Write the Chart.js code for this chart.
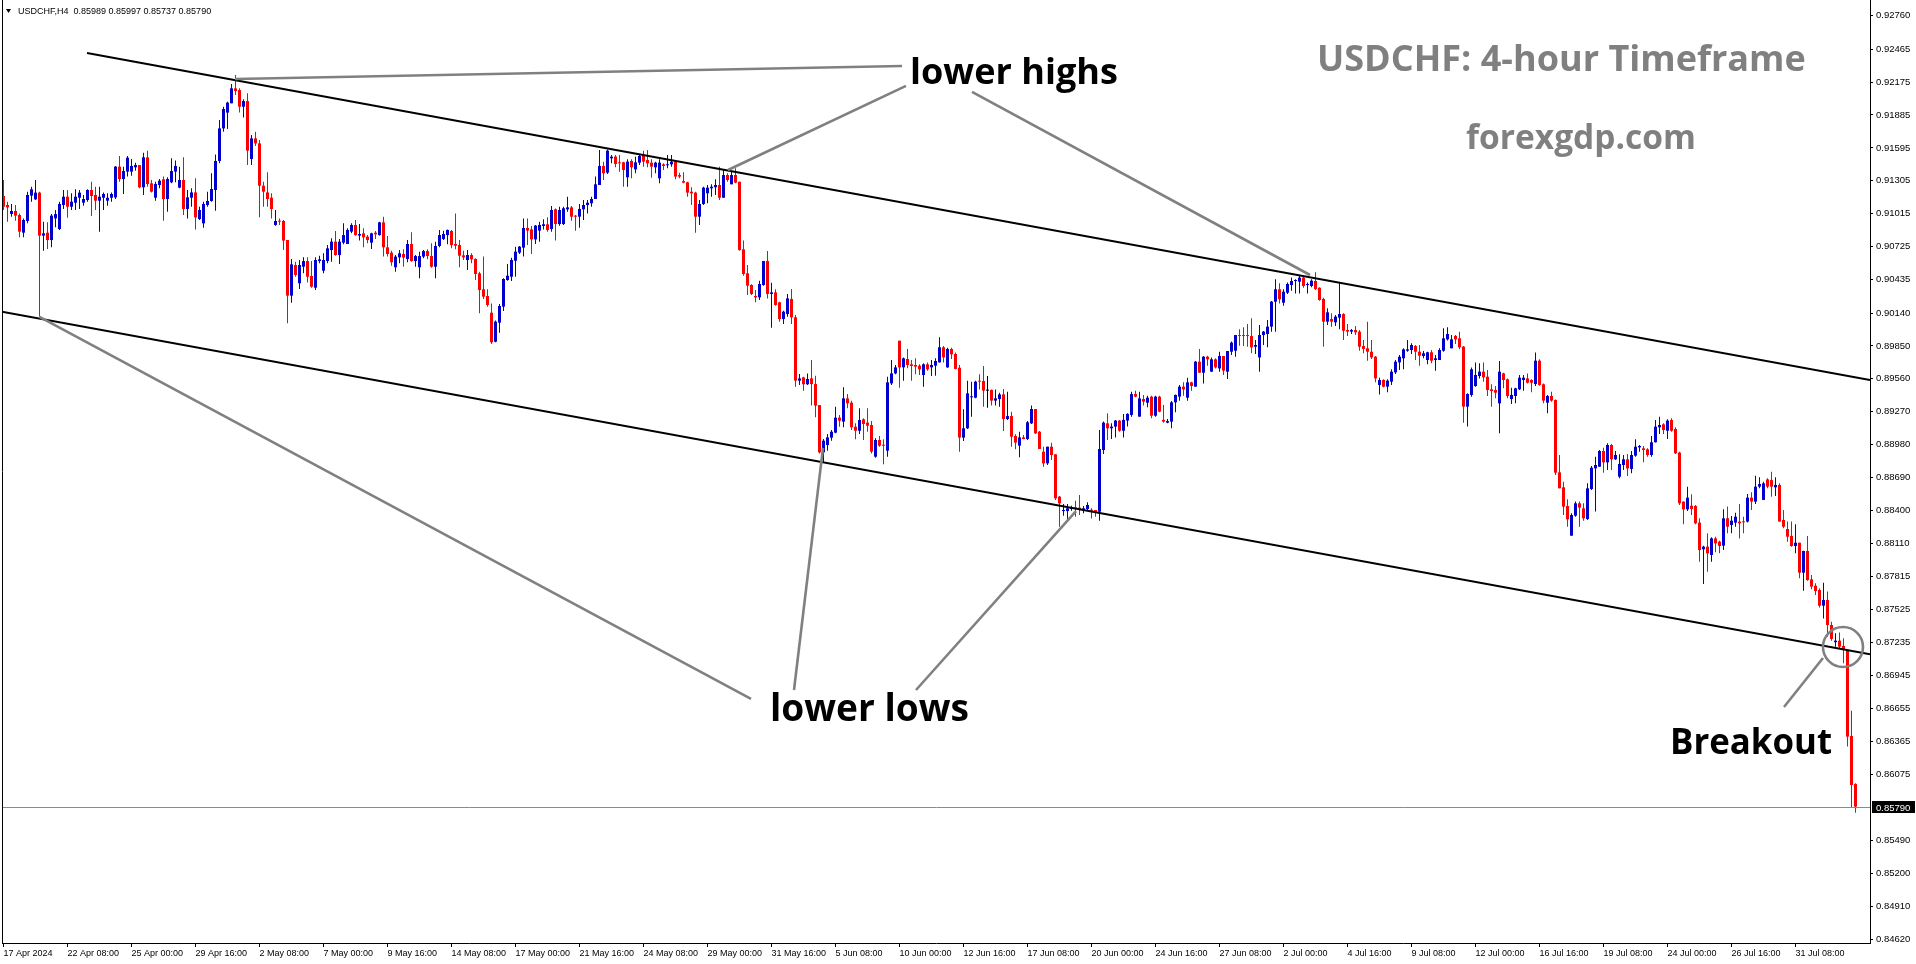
<!DOCTYPE html>
<html><head><meta charset="utf-8">
<script src="https://cdn.jsdelivr.net/npm/chart.js@4.4.1/dist/chart.umd.min.js"></script>
<style>html,body{margin:0;padding:0;background:#fff;overflow:hidden}#wrap{width:1916px;height:964px;position:relative}</style>
</head><body><div id="wrap"><canvas id="c"></canvas></div>
<script>
const symbolTitle = 'USDCHF,H4';

const opens = [
0.91171,0.91092,0.91013,0.91039,0.91004,0.90848,0.90951,0.91174,0.91142,0.91201,
0.90822,0.90848,0.90783,0.90974,0.90880,0.91092,0.91165,0.91077,0.91112,0.91156,
0.91112,0.91136,0.91224,0.91180,0.91130,0.91156,0.91130,0.91156,0.91159,0.91430,
0.91321,0.91386,0.91386,0.91424,0.91444,0.91248,0.91512,0.91283,0.91156,0.91268,
0.91318,0.91145,0.91292,0.91386,0.91245,0.91312,0.91057,0.91156,0.91203,0.90968,
0.90930,0.91092,0.91127,0.91224,0.91480,0.91767,0.91906,0.91988,0.92120,0.92105,
0.91958,0.92008,0.91497,0.91679,0.91635,0.91262,0.91203,0.91156,0.90916,0.90951,
0.90951,0.90783,0.90293,0.90563,0.90402,0.90548,0.90598,0.90466,0.90363,0.90598,
0.90513,0.90598,0.90695,0.90769,0.90651,0.90760,0.90748,0.90857,0.90916,0.90822,
0.90842,0.90813,0.90760,0.90848,0.90827,0.90939,0.90719,0.90672,0.90543,0.90631,
0.90660,0.90616,0.90748,0.90598,0.90543,0.90637,0.90686,0.90642,0.90548,0.90731,
0.90792,0.90827,0.90863,0.90748,0.90739,0.90648,0.90607,0.90651,0.90616,0.90490,
0.90349,0.90290,0.90143,0.89887,0.90055,0.90196,0.90431,0.90460,0.90601,0.90672,
0.90716,0.90889,0.90877,0.90789,0.90866,0.90907,0.90922,0.90880,0.91054,0.90924,
0.90924,0.91054,0.91071,0.90998,0.90989,0.91054,0.91092,0.91107,0.91145,0.91268,
0.91436,0.91377,0.91503,0.91518,0.91468,0.91468,0.91336,0.91480,0.91406,0.91465,
0.91533,0.91488,0.91465,0.91424,0.91327,0.91450,0.91442,0.91450,0.91474,0.91356,
0.91303,0.91292,0.91209,0.91201,0.90989,0.91101,0.91195,0.91239,0.91248,0.91268,
0.91156,0.91356,0.91274,0.91356,0.91297,0.90701,0.90490,0.90387,0.90290,0.90278,
0.90387,0.90598,0.90308,0.90322,0.90234,0.90087,0.90131,0.90264,0.90102,0.89544,
0.89573,0.89512,0.89564,0.89514,0.89329,0.88912,0.88977,0.89042,0.89086,0.89218,
0.89183,0.89388,0.89350,0.89138,0.89103,0.89203,0.89174,0.89153,0.88874,0.89021,
0.88977,0.88927,0.89520,0.89608,0.89896,0.89661,0.89735,0.89688,0.89682,0.89676,
0.89594,0.89688,0.89661,0.89676,0.89705,0.89838,0.89661,0.89823,0.89779,0.89658,
0.89042,0.89124,0.89397,0.89394,0.89541,0.89541,0.89456,0.89462,0.89368,0.89382,
0.89423,0.89206,0.89232,0.89056,0.88971,0.89044,0.89030,0.89168,0.89294,0.89094,
0.88918,0.88815,0.88962,0.88895,0.88522,0.88395,0.88395,0.88413,0.88428,0.88425,
0.88404,0.88413,0.88404,0.88404,0.88389,0.88933,0.89168,0.89124,0.89139,0.89192,
0.89103,0.89192,0.89242,0.89426,0.89227,0.89382,0.89350,0.89403,0.89235,0.89403,
0.89198,0.89174,0.89183,0.89353,0.89403,0.89491,0.89394,0.89529,0.89491,0.89711,
0.89614,0.89755,0.89623,0.89732,0.89652,0.89761,0.89623,0.89799,0.89808,0.89943,
0.89943,0.89943,0.89937,0.89843,0.89749,0.89946,0.89955,0.90020,0.90240,0.90349,
0.90231,0.90319,0.90387,0.90422,0.90416,0.90452,0.90387,0.90378,0.90422,0.90363,
0.90264,0.90064,0.90087,0.90058,0.90099,0.90131,0.89990,0.89976,0.89990,0.89976,
0.89849,0.89829,0.89799,0.89755,0.89506,0.89550,0.89491,0.89535,0.89617,0.89705,
0.89741,0.89808,0.89814,0.89849,0.89799,0.89761,0.89726,0.89794,0.89726,0.89726,
0.89808,0.89908,0.89829,0.89938,0.89917,0.89844,0.89315,0.89418,0.89497,0.89585,
0.89623,0.89579,0.89468,0.89462,0.89344,0.89608,0.89556,0.89382,0.89409,0.89468,
0.89550,0.89564,0.89550,0.89514,0.89720,0.89512,0.89350,0.89409,0.89374,0.88736,
0.88604,0.88439,0.88178,0.88354,0.88463,0.88419,0.88325,0.88589,0.88771,0.88786,
0.88924,0.88824,0.88977,0.88851,0.88698,0.88801,0.88851,0.88766,0.88883,0.88956,
0.88948,0.88939,0.88889,0.89001,0.89133,0.89159,0.89103,0.89197,0.89118,0.88910,
0.88478,0.88410,0.88442,0.88439,0.88293,0.88058,0.88081,0.88008,0.88154,0.88125,
0.88090,0.88331,0.88272,0.88293,0.88302,0.88304,0.88302,0.88513,0.88478,0.88610,
0.88493,0.88674,0.88668,0.88604,0.88625,0.88316,0.88237,0.88175,0.88087,0.88116,
0.87852,0.88043,0.87793,0.87737,0.87699,0.87561,0.87611,0.87391,0.87239,0.87253,
0.87206,0.87171,0.86413,0.85989];

const highs = [
0.91312,0.91121,0.91101,0.91092,0.91018,0.90974,0.91209,0.91253,0.91312,0.91209,
0.90945,0.90939,0.91013,0.91048,0.91121,0.91224,0.91224,0.91195,0.91230,0.91224,
0.91180,0.91230,0.91297,0.91253,0.91253,0.91201,0.91195,0.91201,0.91436,0.91524,
0.91430,0.91524,0.91497,0.91465,0.91444,0.91553,0.91571,0.91312,0.91297,0.91321,
0.91342,0.91336,0.91503,0.91483,0.91430,0.91512,0.91224,0.91239,0.91327,0.91077,
0.91121,0.91209,0.91371,0.91538,0.91841,0.91958,0.92002,0.92158,0.92237,0.92120,
0.92023,0.92076,0.91709,0.91738,0.91665,0.91297,0.91380,0.91195,0.91048,0.90974,
0.90960,0.90783,0.90616,0.90592,0.90607,0.90631,0.90631,0.90598,0.90631,0.90645,
0.90666,0.90739,0.90798,0.90863,0.90792,0.90930,0.90886,0.90930,0.90960,0.90924,
0.90886,0.90827,0.90848,0.90863,0.90945,0.90989,0.90819,0.90689,0.90651,0.90695,
0.90701,0.90783,0.90851,0.90651,0.90681,0.90695,0.90701,0.90754,0.90769,0.90872,
0.90866,0.90877,0.90872,0.91018,0.90783,0.90689,0.90695,0.90666,0.90622,0.90504,
0.90637,0.90349,0.90225,0.90073,0.90219,0.90446,0.90572,0.90628,0.90725,0.90731,
0.90974,0.90974,0.90907,0.90916,0.90945,0.90966,0.90983,0.91083,0.91060,0.91077,
0.91077,0.91165,0.91083,0.91004,0.91101,0.91136,0.91136,0.91165,0.91342,0.91577,
0.91474,0.91582,0.91533,0.91533,0.91533,0.91474,0.91494,0.91494,0.91518,0.91541,
0.91571,0.91577,0.91494,0.91474,0.91494,0.91459,0.91533,0.91533,0.91483,0.91377,
0.91380,0.91297,0.91248,0.91209,0.91136,0.91253,0.91268,0.91274,0.91318,0.91430,
0.91400,0.91371,0.91386,0.91415,0.91297,0.90778,0.90563,0.90393,0.90343,0.90425,
0.90598,0.90687,0.90407,0.90349,0.90240,0.90161,0.90308,0.90352,0.90123,0.89603,
0.89579,0.89608,0.89726,0.89588,0.89329,0.89030,0.89074,0.89109,0.89315,0.89241,
0.89485,0.89426,0.89368,0.89168,0.89300,0.89212,0.89300,0.89188,0.89036,0.89056,
0.89027,0.89579,0.89726,0.89682,0.89896,0.89749,0.89823,0.89726,0.89741,0.89688,
0.89697,0.89703,0.89726,0.89741,0.89926,0.89849,0.89835,0.89835,0.89791,0.89682,
0.89291,0.89544,0.89535,0.89544,0.89600,0.89673,0.89585,0.89467,0.89467,0.89438,
0.89470,0.89447,0.89271,0.89071,0.89094,0.89065,0.89188,0.89324,0.89294,0.89100,
0.88962,0.88962,0.88997,0.88895,0.88527,0.88457,0.88457,0.88442,0.88486,0.88536,
0.88439,0.88472,0.88419,0.88404,0.89109,0.89183,0.89256,0.89168,0.89198,0.89198,
0.89251,0.89256,0.89447,0.89456,0.89447,0.89418,0.89412,0.89412,0.89412,0.89412,
0.89330,0.89206,0.89365,0.89423,0.89506,0.89529,0.89570,0.89535,0.89717,0.89823,
0.89761,0.89764,0.89747,0.89741,0.89799,0.89761,0.89805,0.89888,0.89946,0.89996,
0.90014,0.90043,0.90093,0.89902,0.90034,0.89981,0.90078,0.90246,0.90437,0.90402,
0.90349,0.90410,0.90452,0.90437,0.90475,0.90460,0.90410,0.90437,0.90499,0.90366,
0.90275,0.90181,0.90137,0.90123,0.90410,0.90137,0.90043,0.89999,0.90025,0.89990,
0.89902,0.90064,0.89902,0.89761,0.89570,0.89556,0.89556,0.89644,0.89726,0.89770,
0.89829,0.89902,0.89873,0.89858,0.89858,0.89805,0.89799,0.89814,0.89770,0.89829,
0.90005,0.90014,0.89946,0.89946,0.89976,0.89849,0.89432,0.89661,0.89703,0.89697,
0.89703,0.89638,0.89512,0.89497,0.89717,0.89614,0.89564,0.89482,0.89482,0.89594,
0.89594,0.89608,0.89556,0.89791,0.89732,0.89520,0.89418,0.89447,0.89379,0.88889,
0.88654,0.88498,0.88375,0.88478,0.88478,0.88463,0.88639,0.88792,0.88874,0.88933,
0.88953,0.88992,0.88986,0.88924,0.88895,0.88889,0.88898,0.88924,0.89027,0.88977,
0.88968,0.88948,0.89056,0.89197,0.89227,0.89168,0.89203,0.89212,0.89133,0.88918,
0.88478,0.88610,0.88542,0.88448,0.88331,0.88090,0.88199,0.88163,0.88169,0.88134,
0.88410,0.88434,0.88351,0.88381,0.88457,0.88345,0.88545,0.88560,0.88707,0.88692,
0.88654,0.88684,0.88742,0.88692,0.88639,0.88404,0.88302,0.88302,0.88278,0.88116,
0.88046,0.88175,0.87831,0.87758,0.87714,0.87764,0.87685,0.87420,0.87318,0.87324,
0.87273,0.87171,0.86636,0.85997];

const lows = [
0.91048,0.90945,0.90989,0.90954,0.90807,0.90807,0.90930,0.91121,0.91136,0.90108,
0.90689,0.90704,0.90719,0.90895,0.90871,0.91057,0.90980,0.91048,0.91048,0.91057,
0.91086,0.91121,0.90995,0.91048,0.90857,0.91048,0.91086,0.91121,0.91145,0.91297,
0.91189,0.91342,0.91350,0.91394,0.91239,0.91180,0.91253,0.91203,0.91130,0.91239,
0.90954,0.91033,0.91283,0.91292,0.91239,0.91004,0.90974,0.91077,0.90877,0.90960,
0.90892,0.91077,0.91121,0.91042,0.91459,0.91738,0.91762,0.91988,0.92061,0.91908,
0.91864,0.91444,0.91444,0.91612,0.90983,0.91077,0.91077,0.90974,0.90910,0.90916,
0.90695,0.90049,0.90231,0.90460,0.90352,0.90490,0.90410,0.90363,0.90343,0.90578,
0.90490,0.90578,0.90592,0.90645,0.90572,0.90745,0.90748,0.90842,0.90822,0.90778,
0.90719,0.90754,0.90704,0.90792,0.90822,0.90637,0.90637,0.90557,0.90504,0.90578,
0.90548,0.90587,0.90592,0.90548,0.90446,0.90622,0.90613,0.90540,0.90446,0.90719,
0.90783,0.90745,0.90710,0.90701,0.90543,0.90607,0.90519,0.90578,0.90431,0.90137,
0.90264,0.90196,0.89867,0.89882,0.89967,0.90158,0.90425,0.90422,0.90460,0.90660,
0.90637,0.90739,0.90660,0.90748,0.90769,0.90877,0.90857,0.90857,0.90778,0.90910,
0.90916,0.91033,0.90954,0.90866,0.90892,0.90960,0.91018,0.91077,0.91145,0.91268,
0.91312,0.91365,0.91459,0.91424,0.91386,0.91253,0.91253,0.91327,0.91371,0.91445,
0.91430,0.91424,0.91333,0.91371,0.91283,0.91400,0.91415,0.91430,0.91318,0.91327,
0.91283,0.91165,0.91092,0.90848,0.90916,0.91092,0.91107,0.91165,0.91180,0.91136,
0.91156,0.91297,0.91274,0.91283,0.90689,0.90469,0.90299,0.90299,0.90234,0.90255,
0.90381,0.90269,0.90011,0.90205,0.90064,0.90043,0.90108,0.90043,0.89491,0.89506,
0.89456,0.89506,0.89324,0.89221,0.88903,0.88830,0.88927,0.89015,0.89080,0.89138,
0.89133,0.89300,0.89109,0.89027,0.89074,0.89021,0.89094,0.88903,0.88865,0.88962,
0.88807,0.88874,0.89506,0.89600,0.89482,0.89544,0.89653,0.89544,0.89600,0.89594,
0.89491,0.89632,0.89585,0.89588,0.89703,0.89705,0.89658,0.89735,0.89644,0.88918,
0.89012,0.89118,0.89227,0.89388,0.89467,0.89315,0.89306,0.89324,0.89324,0.89315,
0.89100,0.89197,0.88962,0.88939,0.88868,0.89027,0.89021,0.89162,0.89074,0.88942,
0.88786,0.88801,0.88845,0.88492,0.88257,0.88354,0.88316,0.88398,0.88345,0.88360,
0.88375,0.88404,0.88330,0.88345,0.88310,0.88898,0.89021,0.89030,0.89044,0.89094,
0.89044,0.89139,0.89227,0.89397,0.89227,0.89324,0.89309,0.89212,0.89227,0.89265,
0.89174,0.89168,0.89124,0.89265,0.89368,0.89412,0.89368,0.89456,0.89491,0.89614,
0.89520,0.89676,0.89623,0.89652,0.89623,0.89594,0.89559,0.89770,0.89755,0.89852,
0.89849,0.89843,0.89785,0.89779,0.89623,0.89858,0.89838,0.89976,0.89976,0.90225,
0.90205,0.90308,0.90337,0.90313,0.90313,0.90363,0.90313,0.90366,0.90343,0.90249,
0.89843,0.90034,0.90020,0.90025,0.89996,0.89902,0.89937,0.89955,0.89946,0.89808,
0.89785,0.89720,0.89735,0.89529,0.89423,0.89485,0.89441,0.89506,0.89603,0.89638,
0.89644,0.89799,0.89779,0.89726,0.89676,0.89741,0.89688,0.89697,0.89632,0.89726,
0.89799,0.89897,0.89829,0.89867,0.89820,0.89174,0.89139,0.89403,0.89491,0.89564,
0.89535,0.89409,0.89315,0.89388,0.89080,0.89476,0.89388,0.89338,0.89344,0.89462,
0.89456,0.89520,0.89441,0.89497,0.89500,0.89344,0.89256,0.89359,0.88713,0.88595,
0.88360,0.88257,0.88178,0.88345,0.88257,0.88310,0.88316,0.88580,0.88390,0.88786,
0.88733,0.88756,0.88756,0.88845,0.88684,0.88756,0.88704,0.88727,0.88874,0.88918,
0.88824,0.88874,0.88874,0.88998,0.89074,0.89074,0.89030,0.89094,0.88898,0.88448,
0.88278,0.88395,0.88360,0.88278,0.87949,0.87752,0.87861,0.87949,0.88031,0.88022,
0.88052,0.88199,0.88199,0.88257,0.88154,0.88199,0.88293,0.88404,0.88457,0.88595,
0.88493,0.88595,0.88522,0.88528,0.88302,0.88243,0.88125,0.88081,0.88022,0.87802,
0.87693,0.87781,0.87705,0.87655,0.87546,0.87449,0.87288,0.87253,0.87200,0.87180,
0.87053,0.86319,0.85780,0.85737];

const closes = [
0.91077,0.91071,0.91039,0.90998,0.90857,0.90960,0.91180,0.91230,0.91201,0.90822,
0.90842,0.90783,0.90998,0.91012,0.91101,0.91165,0.91077,0.91121,0.91165,0.91201,
0.91145,0.91224,0.91171,0.91130,0.91165,0.91189,0.91156,0.91189,0.91430,0.91321,
0.91391,0.91509,0.91436,0.91444,0.91248,0.91512,0.91277,0.91209,0.91277,0.91306,
0.91145,0.91321,0.91391,0.91436,0.91312,0.91057,0.91159,0.91203,0.90983,0.91048,
0.91101,0.91127,0.91233,0.91480,0.91767,0.91938,0.91994,0.92120,0.92096,0.91958,
0.92008,0.91571,0.91679,0.91635,0.91262,0.91209,0.91145,0.91057,0.90951,0.90945,
0.90778,0.90293,0.90569,0.90475,0.90563,0.90598,0.90460,0.90372,0.90607,0.90613,
0.90607,0.90710,0.90769,0.90651,0.90769,0.90827,0.90872,0.90916,0.90827,0.90836,
0.90807,0.90783,0.90842,0.90833,0.90939,0.90719,0.90660,0.90587,0.90637,0.90666,
0.90628,0.90748,0.90598,0.90642,0.90642,0.90686,0.90642,0.90548,0.90731,0.90827,
0.90836,0.90872,0.90739,0.90733,0.90645,0.90631,0.90651,0.90613,0.90484,0.90343,
0.90284,0.90211,0.89882,0.90064,0.90202,0.90440,0.90469,0.90607,0.90681,0.90725,
0.90889,0.90866,0.90789,0.90910,0.90916,0.90922,0.90872,0.91048,0.90924,0.91048,
0.91063,0.91071,0.90989,0.90989,0.91057,0.91092,0.91112,0.91145,0.91274,0.91436,
0.91371,0.91571,0.91518,0.91453,0.91459,0.91400,0.91474,0.91424,0.91468,0.91524,
0.91474,0.91459,0.91430,0.91465,0.91465,0.91436,0.91450,0.91474,0.91342,0.91342,
0.91289,0.91201,0.91195,0.90989,0.91101,0.91245,0.91245,0.91253,0.91268,0.91156,
0.91356,0.91312,0.91356,0.91289,0.90695,0.90484,0.90381,0.90308,0.90278,0.90396,
0.90598,0.90308,0.90322,0.90211,0.90087,0.90152,0.90269,0.90102,0.89544,0.89564,
0.89512,0.89559,0.89514,0.89324,0.88912,0.89015,0.89044,0.89094,0.89218,0.89191,
0.89388,0.89344,0.89133,0.89103,0.89197,0.89162,0.89147,0.88918,0.89021,0.88971,
0.88971,0.89529,0.89608,0.89661,0.89661,0.89741,0.89682,0.89673,0.89667,0.89644,
0.89688,0.89644,0.89682,0.89717,0.89838,0.89749,0.89823,0.89776,0.89647,0.89042,
0.89124,0.89432,0.89403,0.89535,0.89535,0.89456,0.89456,0.89368,0.89388,0.89423,
0.89206,0.89232,0.89050,0.88998,0.89044,0.89030,0.89177,0.89294,0.89080,0.88942,
0.88815,0.88962,0.88889,0.88507,0.88463,0.88404,0.88419,0.88428,0.88419,0.88404,
0.88419,0.88448,0.88398,0.88389,0.88942,0.89174,0.89124,0.89139,0.89192,0.89103,
0.89198,0.89251,0.89426,0.89403,0.89388,0.89359,0.89394,0.89235,0.89403,0.89271,
0.89183,0.89188,0.89353,0.89418,0.89491,0.89467,0.89529,0.89497,0.89711,0.89614,
0.89755,0.89732,0.89732,0.89661,0.89761,0.89632,0.89805,0.89879,0.89946,0.89937,
0.89937,0.89937,0.89838,0.89858,0.89946,0.89976,0.90020,0.90240,0.90349,0.90261,
0.90328,0.90396,0.90422,0.90431,0.90452,0.90378,0.90393,0.90425,0.90352,0.90255,
0.90064,0.90146,0.90064,0.90108,0.90131,0.89984,0.89976,0.89990,0.89970,0.89843,
0.89823,0.89799,0.89749,0.89564,0.89550,0.89491,0.89544,0.89623,0.89711,0.89755,
0.89820,0.89820,0.89858,0.89799,0.89764,0.89785,0.89794,0.89720,0.89741,0.89814,
0.89917,0.89955,0.89908,0.89908,0.89838,0.89315,0.89426,0.89644,0.89594,0.89623,
0.89573,0.89462,0.89453,0.89438,0.89623,0.89550,0.89409,0.89418,0.89476,0.89570,
0.89570,0.89526,0.89526,0.89720,0.89506,0.89368,0.89409,0.89368,0.88733,0.88595,
0.88434,0.88322,0.88360,0.88463,0.88425,0.88331,0.88595,0.88777,0.88801,0.88924,
0.88824,0.88977,0.88851,0.88889,0.88810,0.88851,0.88771,0.88889,0.88962,0.88968,
0.88933,0.88889,0.89001,0.89139,0.89153,0.89109,0.89192,0.89103,0.88904,0.88463,
0.88410,0.88513,0.88413,0.88287,0.88052,0.88081,0.88022,0.88154,0.88110,0.88087,
0.88331,0.88257,0.88310,0.88345,0.88287,0.88296,0.88513,0.88478,0.88610,0.88633,
0.88639,0.88610,0.88610,0.88625,0.88302,0.88257,0.88169,0.88087,0.88116,0.87852,
0.88043,0.87787,0.87729,0.87690,0.87561,0.87611,0.87391,0.87268,0.87253,0.87200,
0.87171,0.86407,0.85981,0.85790];

// time-axis labels, one every 16 H4 bars
const xTickLabels = ['17 Apr 2024','22 Apr 08:00','25 Apr 00:00','29 Apr 16:00','2 May 08:00','7 May 00:00',
 '9 May 16:00','14 May 08:00','17 May 00:00','21 May 16:00','24 May 08:00','29 May 00:00','31 May 16:00',
 '5 Jun 08:00','10 Jun 00:00','12 Jun 16:00','17 Jun 08:00','20 Jun 00:00','24 Jun 16:00','27 Jun 08:00',
 '2 Jul 00:00','4 Jul 16:00','9 Jul 08:00','12 Jul 00:00','16 Jul 16:00','19 Jul 08:00','24 Jul 00:00',
 '26 Jul 16:00','31 Jul 08:00'];
const xTickStep = 16;

const yTicks = [0.92760,0.92465,0.92175,0.91885,0.91595,0.91305,0.91015,0.90725,0.90435,0.90140,
 0.89850,0.89560,0.89270,0.88980,0.88690,0.88400,0.88110,0.87815,0.87525,0.87235,0.86945,0.86655,
 0.86365,0.86075,0.85490,0.85200,0.84910,0.84620];

// channel trendlines (bar index, price)
const channelUpper = [{x:20.875,y:0.92431},{x:466.625,y:0.89550}];
const channelLower = [{x:-0.375,y:0.90151},{x:466.625,y:0.87133}];

// grey pointer lines (bar index, price)
const pointerLines = [
 [{x:57.875,y:0.92202},{x:224.625,y:0.92317}],
 [{x:181.125,y:0.91400},{x:225.625,y:0.92141}],
 [{x:242.125,y:0.92088},{x:326.625,y:0.90475}],
 [{x:8.875,y:0.90108},{x:186.875,y:0.86739}],
 [{x:204.875,y:0.88951},{x:197.625,y:0.86818}],
 [{x:268.125,y:0.88395},{x:228.125,y:0.86818}],
 [{x:454.875,y:0.87100},{x:445.125,y:0.86668}]
];
const breakoutCircle = {x:459.875, y:0.87197};

const annotations = [
 {text:'USDCHF: 4-hour Timeframe', left:1317, base:71, width:489, color:'#808080'},
 {text:'forexgdp.com', left:1466, base:149, width:230, color:'#808080'},
 {text:'lower highs', left:910, base:84, width:208, color:'#000000'},
 {text:'lower lows', left:770, base:721, width:199, color:'#000000'},
 {text:'Breakout', left:1670, base:754, width:162, color:'#000000'}
];

const BULL = '#0000CD', BEAR = '#FF0000', DOJI = '#000000';
const Y_MAX = 0.928984, Y_MIN = 0.845885;
const X_MIN = -0.375, X_MAX = 466.625;

const idx = opens.map((_, i) => i);
const colorOf = i => closes[i] > opens[i] ? BULL : (closes[i] < opens[i] ? BEAR : DOJI);
const wickData = idx.map(i => ({x:i, y:[Math.min(lows[i], opens[i], closes[i]), Math.max(highs[i], opens[i], closes[i])]}));
const bodyData = idx.map(i => ({x:i, y:[opens[i], closes[i]]}));

const datasets = [
 {type:'bar', data:wickData, barThickness:1, grouped:false, order:3, inflateAmount:0, minBarLength:1,
  backgroundColor: c => colorOf(c.dataIndex), borderWidth:0},
 {type:'bar', data:bodyData, barThickness:3, grouped:false, order:2, inflateAmount:0, minBarLength:1,
  backgroundColor: c => colorOf(c.dataIndex), borderWidth:0},
 {type:'line', data:channelUpper, borderColor:'#000', borderWidth:2, pointRadius:0, order:1, tension:0},
 {type:'line', data:channelLower, borderColor:'#000', borderWidth:2, pointRadius:0, order:1, tension:0}
];
pointerLines.forEach(seg => datasets.push({type:'line', data:seg, borderColor:'#808080', borderWidth:2.6,
  pointRadius:0, order:0, tension:0}));

const X_FONT = {family:'"Liberation Sans", Arial, sans-serif', size:9};
const Y_FONT = {family:'"Liberation Sans", Arial, sans-serif', size:9.5};

const overlay = {
 id:'overlay',
 afterDraw(chart){
  const {ctx, chartArea:a, scales:{x, y}} = chart;
  ctx.save();
  ctx.strokeStyle = '#000'; ctx.lineWidth = 1;
  ctx.beginPath(); ctx.moveTo(a.left + 0.5, a.top); ctx.lineTo(a.left + 0.5, a.bottom); ctx.stroke();
  const last = closes[closes.length - 1];
  const py = Math.round(y.getPixelForValue(last)) + 0.5;
  ctx.strokeStyle = '#8a8a8a';
  ctx.beginPath(); ctx.moveTo(a.left + 1, py); ctx.lineTo(a.right, py); ctx.stroke();
  ctx.fillStyle = '#000';
  ctx.fillRect(a.right + 2, py - 6.5, 43, 12);
  ctx.fillStyle = '#fff';
  ctx.font = '9.5px "Liberation Sans", Arial, sans-serif';
  ctx.textAlign = 'left'; ctx.textBaseline = 'middle';
  ctx.fillText(last.toFixed(5), a.right + 6, py + 0.5);
  ctx.strokeStyle = '#808080'; ctx.lineWidth = 2.6;
  ctx.beginPath();
  ctx.arc(x.getPixelForValue(breakoutCircle.x), y.getPixelForValue(breakoutCircle.y), 20, 0, Math.PI * 2);
  ctx.stroke();
  ctx.fillStyle = '#000';
  ctx.beginPath(); ctx.moveTo(6, 9); ctx.lineTo(11, 9); ctx.lineTo(8.5, 13); ctx.closePath(); ctx.fill();
  ctx.font = '9px "Liberation Sans", Arial, sans-serif';
  ctx.textBaseline = 'middle';
  const n = opens.length - 1;
  ctx.fillText(symbolTitle + '  ' + [opens[n], highs[n], lows[n], closes[n]].map(v => v.toFixed(5)).join(' '), 18, 11.5);
  const fam = '"Open Sans", "Noto Sans", sans-serif';
  annotations.forEach(t => {
    ctx.font = 'bold 40px ' + fam;
    const w = ctx.measureText(t.text).width;
    const size = 40 * t.width / w;
    ctx.font = 'bold ' + size.toFixed(2) + 'px ' + fam;
    ctx.fillStyle = t.color; ctx.textAlign = 'left'; ctx.textBaseline = 'alphabetic';
    ctx.fillText(t.text, t.left, t.base);
  });
  ctx.restore();
 }
};

new Chart(document.getElementById('c'), {
 type:'bar',
 data:{datasets},
 options:{
  responsive:true, maintainAspectRatio:false, animation:false, devicePixelRatio:1,
  layout:{padding:{left:2, top:0, right:0, bottom:0}},
  plugins:{legend:{display:false}, tooltip:{enabled:false}},
  scales:{
   x:{type:'linear', min:X_MIN, max:X_MAX, offset:false, position:'bottom',
      afterBuildTicks: s => { s.ticks = xTickLabels.map((_, k) => ({value:k * xTickStep})); },
      ticks:{autoSkip:false, maxRotation:0, minRotation:0, align:'start', padding:1, color:'#000', font:X_FONT,
             callback: v => xTickLabels[Math.round(v / xTickStep)]},
      grid:{display:true, drawOnChartArea:false, drawTicks:true, tickLength:4, tickColor:'#000', offset:false},
      border:{display:true, color:'#000', width:1},
      afterFit: s => { s.height = 21; s.paddingLeft = 0; s.paddingRight = 0; }},
   y:{type:'linear', position:'right', min:Y_MIN, max:Y_MAX,
      afterBuildTicks: s => { s.ticks = yTicks.map(v => ({value:v})); },
      ticks:{autoSkip:false, padding:3, color:'#000', font:Y_FONT, callback: v => v.toFixed(5)},
      grid:{display:true, drawOnChartArea:false, drawTicks:true, tickLength:3, tickColor:'#000'},
      border:{display:true, color:'#000', width:1},
      afterFit: s => { s.width = 46; s.paddingTop = 0; s.paddingBottom = 0; }}
  }
 },
 plugins:[overlay]
});
</script>
</body></html>
